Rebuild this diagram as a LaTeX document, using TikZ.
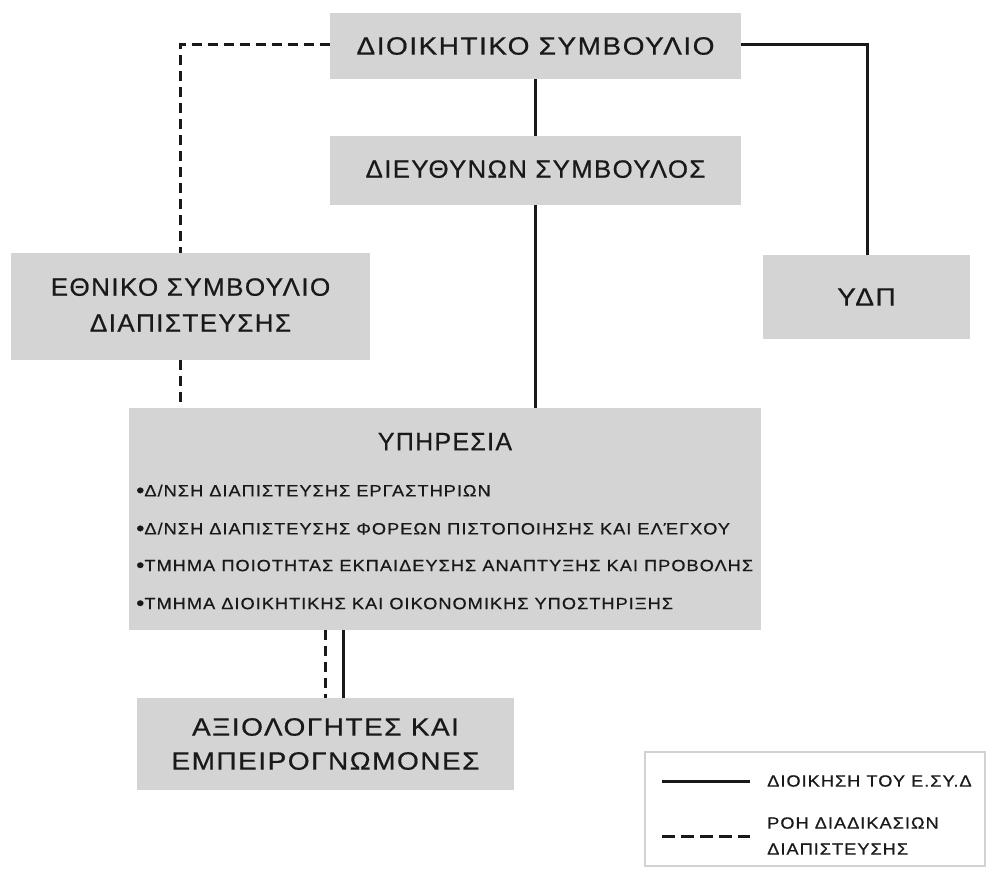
\documentclass[tikz,border=0pt]{standalone}
\usepackage{fontspec}
\setmainfont{Liberation Sans}
\newfontfamily\dfont[LetterSpace=6,FakeStretch=1.12,FakeBold=0.6]{Liberation Sans}
\definecolor{boxgray}{RGB}{212,212,212}
\definecolor{legendgray}{RGB}{210,210,210}
\definecolor{ink}{RGB}{25,25,25}
\newcommand{\bul}{{\fontsize{21}{21}\selectfont\raisebox{-1pt}{•}}}
\newcommand{\hsq}[2]{\scalebox{#1}[1]{\begin{tabular}{@{}c@{}}#2\end{tabular}}}
\tikzset{
  orgbox/.style={fill=boxgray, draw=none, inner sep=0pt, text=ink, align=center,
    font=\dfont\fontsize{25}{36}\selectfont},
  solidlink/.style={draw=ink, line width=3pt},
  dashlink/.style={draw=ink, line width=3pt, dash pattern=on 10pt off 6pt},
  smalltext/.style={inner sep=0pt, text=ink, font=\dfont\fontsize{16.3}{26}\selectfont},
}
\begin{document}
\begin{tikzpicture}[x=1pt,y=-1pt]
\useasboundingbox (0,0) rectangle (989,869);
% boxes
\node[orgbox, minimum width=411pt, minimum height=66pt] (ds) at (535.5,46) {ΔΙΟΙΚΗΤΙΚΟ ΣΥΜΒΟΥΛΙΟ};
\node[orgbox, minimum width=411pt, minimum height=69pt] (dsy) at (535.5,170.5) {\hsq{0.92}{ΔΙΕΥΘΥΝΩΝ ΣΥΜΒΟΥΛΟΣ}};
\node[orgbox, minimum width=359pt, minimum height=107pt] (esd) at (190.5,306.5) {\hsq{0.93}{ΕΘΝΙΚΟ ΣΥΜΒΟΥΛΙΟ\\ΔΙΑΠΙΣΤΕΥΣΗΣ}};
\node[orgbox, minimum width=207pt, minimum height=84pt] (ydp) at (866.5,297) {ΥΔΠ};
\node[fill=boxgray, inner sep=0pt, minimum width=632pt, minimum height=222pt] (yp) at (445,519) {};
\node[orgbox, minimum width=377pt, minimum height=92pt, font=\dfont\fontsize{25}{34}\selectfont] (axi) at (325.5,744) {ΑΞΙΟΛΟΓΗΤΕΣ ΚΑΙ\\ΕΜΠΕΙΡΟΓΝΩΜΟΝΕΣ};
% service contents
\node[inner sep=0pt, text=ink, font=\dfont\fontsize{25}{26}\selectfont] (yptitle) at (445,445) {\hsq{0.89}{ΥΠΗΡΕΣΙΑ}};
\node[smalltext, anchor=west] (b1) at (136,491) {\bul Δ/ΝΣΗ ΔΙΑΠΙΣΤΕΥΣΗΣ ΕΡΓΑΣΤΗΡΙΩΝ};
\node[smalltext, anchor=west] (b2) at (136,529) {\bul Δ/ΝΣΗ ΔΙΑΠΙΣΤΕΥΣΗΣ ΦΟΡΕΩΝ ΠΙΣΤΟΠΟΙΗΣΗΣ ΚΑΙ ΕΛΈΓΧΟΥ};
\node[smalltext, anchor=west] (b3) at (136,566) {\bul ΤΜΗΜΑ ΠΟΙΟΤΗΤΑΣ ΕΚΠΑΙΔΕΥΣΗΣ ΑΝΑΠΤΥΞΗΣ ΚΑΙ ΠΡΟΒΟΛΗΣ};
\node[smalltext, anchor=west] (b4) at (136,604) {\bul ΤΜΗΜΑ ΔΙΟΙΚΗΤΙΚΗΣ ΚΑΙ ΟΙΚΟΝΟΜΙΚΗΣ ΥΠΟΣΤΗΡΙΞΗΣ};
% connectors
\coordinate (cl) at (180,45);
\coordinate (cr) at (867,45);
\draw[dashlink] (ds.west |- cl) -- (cl) -- (cl |- esd.north);
\draw[dashlink] (cl |- esd.south) -- (cl |- yp.north);
\draw[solidlink] (ds.south) -- (dsy.north);
\draw[solidlink] (dsy.south) -- (dsy.south |- yp.north);
\draw[solidlink] (ds.east |- cr) -- (cr) -- (cr |- ydp.north);
\coordinate (cd) at (325,0);
\coordinate (cs) at (343,0);
\draw[dashlink] (cd |- yp.south) -- (cd |- axi.north);
\draw[solidlink] (cs |- yp.south) -- (cs |- axi.north);
% legend
\node[draw=legendgray, line width=2.5pt, inner sep=0pt, minimum width=340pt, minimum height=114pt] (leg) at (815,809) {};
\coordinate (l1a) at (662,781);
\coordinate (l1b) at (750,781);
\coordinate (l2a) at (662,836);
\coordinate (l2b) at (750,836);
\draw[solidlink] (l1a) -- (l1b);
\draw[draw=ink, line width=3pt, dash pattern=on 13pt off 6pt] (l2a) -- (l2b);
\node[smalltext, anchor=west] (lt1) at (767,781) {ΔΙΟΙΚΗΣΗ ΤΟΥ Ε.ΣΥ.Δ};
\node[smalltext, anchor=west, align=left] (lt2) at (767,836) {ΡΟΗ ΔΙΑΔΙΚΑΣΙΩΝ\\ΔΙΑΠΙΣΤΕΥΣΗΣ};
\end{tikzpicture}
\end{document}
